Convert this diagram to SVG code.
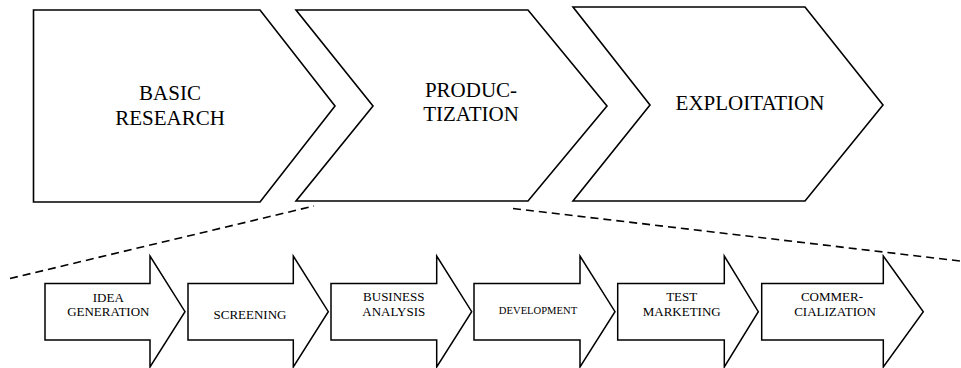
<svg xmlns="http://www.w3.org/2000/svg" width="961" height="368" viewBox="0 0 961 368">
  <style>
    .stage { fill: #ffffff; stroke: #000000; stroke-width: 1.6; stroke-linejoin: miter; }
    .step { fill: #ffffff; stroke: #000000; stroke-width: 1.5; stroke-linejoin: miter; }
    .big { font-family: "Liberation Serif", "Times New Roman", serif; font-size: 21px; fill: #000000; text-anchor: middle; }
    .small { font-family: "Liberation Serif", "Times New Roman", serif; font-size: 13px; fill: #000000; text-anchor: middle; }
    .tiny { font-family: "Liberation Serif", "Times New Roman", serif; font-size: 10.6px; fill: #000000; text-anchor: middle; }
    .zoom { fill: none; stroke: #000000; stroke-width: 1.6; stroke-dasharray: 8 5; }
  </style>
  <rect width="961" height="368" fill="#ffffff"/>

  <!-- main stages -->
  <g id="basic-research">
    <path class="stage" d="M33.5,10 L260,10 L335,106 L260,202 L33.5,202 Z"/>
    <text class="big" x="170" y="100">BASIC</text>
    <text class="big" x="170" y="125">RESEARCH</text>
  </g>
  <g id="productization">
    <path class="stage" d="M296,10 L528,10 L607,106 L528,201 L296,201 L373,106 Z"/>
    <text class="big" x="471" y="97">PRODUC-</text>
    <text class="big" x="471" y="120.5">TIZATION</text>
  </g>
  <g id="exploitation">
    <path class="stage" d="M573,7 L805,7 L883,105 L805,201 L573,201 L650,105 Z"/>
    <text class="big" x="750" y="110">EXPLOITATION</text>
  </g>

  <!-- dashed lines opening up the productization stage -->
  <g id="connectors">
    <line class="zoom" x1="10" y1="278.5" x2="314" y2="206"/>
    <line class="zoom" x1="513" y1="208.5" x2="960" y2="261"/>
  </g>

  <!-- sub-steps -->
  <g id="idea-generation">
    <path class="step" d="M45,283.5 L150,283.5 L150,256 L185,311.7 L150,367 L150,340 L45,340 Z"/>
    <text class="small" x="108.3" y="301.5">IDEA</text>
    <text class="small" x="108.3" y="316">GENERATION</text>
  </g>
  <g id="screening">
    <path class="step" d="M188,283.5 L293.3,283.5 L293.3,256 L328.3,311.7 L293.3,367 L293.3,340 L188,340 Z"/>
    <text class="small" x="250" y="319.3">SCREENING</text>
  </g>
  <g id="business-analysis">
    <path class="step" d="M331,283.5 L436.7,283.5 L436.7,256 L471.7,311.7 L436.7,367 L436.7,340 L331,340 Z"/>
    <text class="small" x="393.8" y="301">BUSINESS</text>
    <text class="small" x="393.8" y="316">ANALYSIS</text>
  </g>
  <g id="development">
    <path class="step" d="M474,283.5 L580,283.5 L580,256 L615,311.7 L580,367 L580,340 L474,340 Z"/>
    <text class="tiny" x="538" y="314">DEVELOPMENT</text>
  </g>
  <g id="test-marketing">
    <path class="step" d="M617.7,283.5 L724.3,283.5 L724.3,256 L758.3,311.7 L724.3,367 L724.3,340 L617.7,340 Z"/>
    <text class="small" x="681.7" y="301">TEST</text>
    <text class="small" x="681.7" y="316">MARKETING</text>
  </g>
  <g id="commercialization">
    <path class="step" d="M761.7,283.5 L883.3,283.5 L883.3,256 L923.3,311.7 L883.3,367 L883.3,340 L761.7,340 Z"/>
    <text class="small" x="832" y="301">COMMER-</text>
    <text class="small" x="835" y="316">CIALIZATION</text>
  </g>
</svg>
